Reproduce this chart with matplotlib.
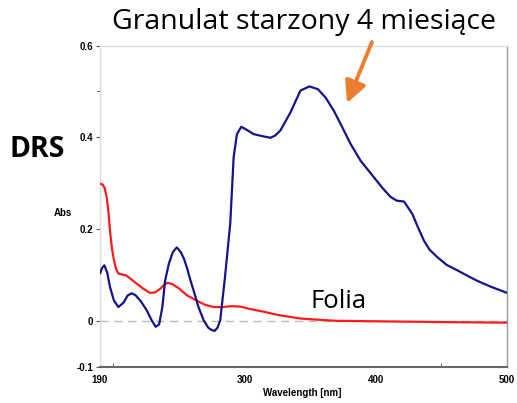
import matplotlib
matplotlib.use("Agg")
import matplotlib.pyplot as plt
from matplotlib.ticker import FixedLocator

# Data
blue_x = [190, 191.5, 193.3, 195.5, 197.6, 200.5, 204, 208, 211, 214, 217, 221, 225.6, 229,
          232.4, 235, 237.5, 239.6, 242.5, 245.5, 248.5, 251.5, 254, 256.1, 258.5, 261.2,
          265, 268.9, 272.5, 275, 277.3, 279.5, 281.6, 285, 289.2, 291.8, 294.3, 297.6, 302,
          307, 313, 319.8, 323.5, 327.4, 335, 342.7, 349.5, 356, 362, 368.1, 374, 380.8,
          388.5, 398.6, 405, 411.4, 416, 421.6, 427.9, 432, 436.7, 441, 446.9, 454, 462.2,
          470, 477.5, 488, 500]
blue_y = [0.103, 0.115, 0.121, 0.105, 0.074, 0.045, 0.030, 0.040, 0.055, 0.060, 0.056, 0.043,
          0.023, 0.003, -0.013, -0.008, 0.030, 0.088, 0.125, 0.150, 0.160, 0.150, 0.135, 0.117,
          0.092, 0.067, 0.030, 0.0015, -0.015, -0.020, -0.022, -0.015, 0.002, 0.090, 0.212,
          0.357, 0.407, 0.423, 0.416, 0.407, 0.403, 0.399, 0.404, 0.415, 0.454, 0.502, 0.511,
          0.505, 0.486, 0.458, 0.425, 0.386, 0.349, 0.313, 0.290, 0.270, 0.262, 0.260, 0.233,
          0.205, 0.175, 0.155, 0.139, 0.122, 0.110, 0.098, 0.087, 0.074, 0.061]

red_x = [190, 192, 193.5, 195.1, 196.5, 197.6, 199, 200.2, 202, 204, 207, 210, 214, 218, 223,
         228, 232, 236, 239, 241.6, 245, 250, 256, 263, 270, 276.5, 283, 290.5, 297, 304,
         314.6, 325, 342.7, 352.8, 370, 400, 430, 460, 500]
red_y = [0.299, 0.297, 0.290, 0.27, 0.235, 0.197, 0.16, 0.139, 0.115, 0.103, 0.101, 0.099,
         0.09, 0.081, 0.07, 0.061, 0.062, 0.070, 0.079, 0.083, 0.080, 0.071, 0.056, 0.045,
         0.035, 0.030, 0.030, 0.032, 0.031, 0.026, 0.020, 0.013, 0.005, 0.003, 0.0, -0.001,
         -0.002, -0.003, -0.004]

x_ticklabels = [190, 300, 400, 500]
x_tickmarks = [200, 300, 400, 450]
y_ticklabels = [-0.1, 0, 0.2, 0.4, 0.6]
y_minor = [0.5]

W, H = 517, 403
fig = plt.figure(figsize=(W / 100, H / 100), dpi=100)
ax = fig.add_axes([100 / W, (H - 366.7) / H, (507 - 100) / W, (366.7 - 45.6) / H])

ax.axhline(0, color="#bbbbbb", lw=1, ls=(0, (6, 4)), zorder=1)
ax.plot(red_x, red_y, color="#ff1a1a", lw=1.6, zorder=3,
        solid_joinstyle="round", solid_capstyle="round")
ax.plot(blue_x, blue_y, color="#14148c", lw=1.6, zorder=4,
        solid_joinstyle="round", solid_capstyle="round")

ax.set_xlim(190, 500)
ax.set_ylim(-0.1, 0.6)

tick_font = dict(family="Liberation Sans", weight="bold", size=7)
ax.set_xticks(x_ticklabels)
ax.set_xticklabels([str(v) for v in x_ticklabels], **tick_font)
ax.tick_params(axis="x", length=0, pad=6)
ax.xaxis.set_minor_locator(FixedLocator(x_tickmarks))
ax.tick_params(axis="x", which="minor", length=3, direction="in", color="#555555")

ax.set_yticks(y_ticklabels)
ax.set_yticklabels(["-0.1", "0", "0.2", "0.4", "0.6"], **tick_font)
ax.tick_params(axis="y", length=3, direction="out", color="#555555", pad=2)
ax.yaxis.set_minor_locator(FixedLocator(y_minor))
ax.tick_params(axis="y", which="minor", length=2, direction="out", color="#222222")

for s in ["top", "left"]:
    ax.spines[s].set_color("#dddddd")
    ax.spines[s].set_linewidth(1)
ax.spines["right"].set_color("#999999")
ax.spines["right"].set_linewidth(1)
ax.spines["bottom"].set_color("#666666")
ax.spines["bottom"].set_linewidth(1.5)

fig.text(72 / W, 1 - 213 / H, "Abs", ha="right", va="center", **tick_font)
fig.text(302 / W, 1 - 393 / H, "Wavelength [nm]", ha="center", va="center", **tick_font)

fig.text(304 / W, 1 - 22 / H, "Granulat starzony 4 miesiące", ha="center", va="center",
         family="Open Sans", size=20.5, color="black")
fig.text(37 / W, 1 - 150 / H, "DRS", ha="center", va="center",
         family="Open Sans", weight="bold", size=20.5, color="black")
fig.text(339 / W, 1 - 301 / H, "Folia", ha="center", va="center",
         family="Open Sans", size=18.5, color="black")

fig.patches.append(matplotlib.patches.FancyArrowPatch(
    (372 / W, 1 - 42 / H), (347 / W, 1 - 103 / H), transform=fig.transFigure,
    arrowstyle="-|>,head_length=13,head_width=6.5", mutation_scale=1,
    color="#ed7d31", lw=2.8, shrinkA=0, shrinkB=0))

fig.savefig("out.png", dpi=100)
